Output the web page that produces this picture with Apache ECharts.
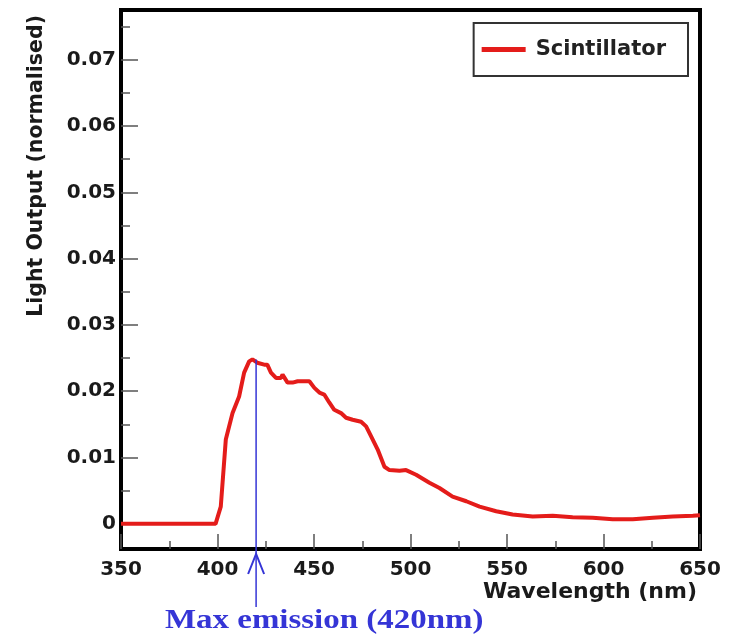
<!DOCTYPE html>
<html>
<head>
<meta charset="utf-8">
<script src="https://cdn.jsdelivr.net/npm/echarts@6/dist/echarts.min.js"></script>
<style>
html, body { margin: 0; padding: 0; background: #fff; }
#chart { width: 740px; height: 638px; }
</style>
</head>
<body>
<div id="chart"></div>
<script>
// emission spectrum
const wavelength = [350, 360, 370, 380, 390, 399, 401.7, 404.3, 407.8, 411.2, 413.8, 416.4, 418.1, 420.6, 424.2,
    425.8, 427.7, 430.3, 432.9, 433.7, 436.3, 438.9, 441.5, 447.6, 450.2, 452.8, 455.3, 457.9, 460.5, 464,
    466.6, 470, 474.4, 477, 479.6, 483, 486.5, 489.1, 494.3, 497.7, 502.9, 509.8, 515, 521.8, 528.9,
    535.8, 544.4, 552.9, 563.3, 573.7, 584, 594.4, 604.8, 615.2, 625.6, 635.9, 646.3, 650]
const lightOutput = [0, 0, 0, 0, 0, 0, 0.0026, 0.0127, 0.0167, 0.0192, 0.0228, 0.0245, 0.0248, 0.0243, 0.0240,
    0.0240, 0.0228, 0.0220, 0.0220, 0.0225, 0.0213, 0.0213, 0.0215, 0.0215, 0.0205, 0.0198, 0.0195, 0.0183, 0.0172, 0.0167,
    0.0160, 0.0157, 0.0154, 0.0147, 0.0132, 0.0112, 0.0086, 0.0081, 0.0080, 0.0081, 0.0074, 0.0062, 0.0054, 0.0041, 0.0034,
    0.0026, 0.0019, 0.0014, 0.0011, 0.0012, 0.0010, 0.0009, 0.0007, 0.0007, 0.0009, 0.0011, 0.0012, 0.0013]

const xRange = [350, 650]
const yRange = [-0.0038, 0.0775]
const yMajorTicks = [0, 0.01, 0.02, 0.03, 0.04, 0.05, 0.06, 0.07]
const yMinorTicks = [0.005, 0.015, 0.025, 0.035, 0.045, 0.055, 0.065, 0.075]
const maxEmission = 420

const labelFont = {
    color: '#1a1a1a',
    fontFamily: '"DejaVu Sans", sans-serif',
    fontWeight: 'bold',
    fontSize: 20,
}
const blue = '#3535d6'
const tickStyle = { color: '#555', width: 1.5 }

const chart = echarts.init(document.getElementById('chart'))
chart.setOption({
    backgroundColor: '#fff',
    animation: false,
    grid: {
        left: 121, right: 40, top: 10, bottom: 89,
        outerBoundsMode: 'none',
        containLabel: false,
        show: true,
        borderColor: '#000',
        borderWidth: 4,
    },
    legend: {
        data: ['Scintillator'],
        right: 52,
        top: 23,
        icon: 'rect',
        itemWidth: 44,
        itemHeight: 5,
        padding: [16, 22, 16, 8],
        borderColor: '#333',
        borderWidth: 2,
        backgroundColor: '#fff',
        textStyle: Object.assign({}, labelFont, { fontSize: 21, color: '#222', padding: [0, 0, 0, 5] }),
    },
    xAxis: {
        type: 'value',
        min: xRange[0],
        max: xRange[1],
        interval: 50,
        name: 'Wavelength (nm)',
        nameLocation: 'end',
        nameGap: -3,
        nameTextStyle: Object.assign({}, labelFont, { fontSize: 22, align: 'right', verticalAlign: 'top', padding: [32, 0, 0, 0] }),
        axisLine: { onZero: false, lineStyle: { color: '#000', width: 4 } },
        axisTick: { inside: true, length: 15, lineStyle: tickStyle },
        minorTick: { show: true, splitNumber: 2, length: 8, lineStyle: tickStyle },
        splitLine: { show: false },
        axisLabel: Object.assign({}, labelFont, { margin: 11 }),
    },
    yAxis: [{
        type: 'value',
        min: yRange[0],
        max: yRange[1],
        position: 'left',
        name: 'Light Output (normalised)',
        nameLocation: 'end',
        nameRotate: 90,
        nameGap: -5,
        nameTextStyle: Object.assign({}, labelFont, { fontSize: 20.5, align: 'right', verticalAlign: 'bottom', padding: [0, 0, 74, 0] }),
        axisLine: { lineStyle: { color: '#000', width: 4 } },
        axisTick: { inside: true, length: 17, customValues: yMajorTicks, lineStyle: tickStyle },
        splitLine: { show: false },
        axisLabel: Object.assign({}, labelFont, {
            margin: 5,
            customValues: yMajorTicks,
            formatter: v => v === 0 ? '0' : v.toFixed(2),
        }),
    }, {
        // second copy of the scale, only for the 0.005 minor ticks
        type: 'value',
        min: yRange[0],
        max: yRange[1],
        position: 'left',
        offset: 0,
        axisLine: { show: false },
        axisTick: { inside: true, length: 9, customValues: yMinorTicks, lineStyle: tickStyle },
        axisLabel: { show: false },
        splitLine: { show: false },
    }],
    series: [{
        name: 'Scintillator',
        type: 'line',
        data: wavelength.map((w, i) => [w, lightOutput[i]]),
        showSymbol: false,
        lineStyle: { color: '#e41c1a', width: 4 },
        itemStyle: { color: '#e41c1a' },
    }],
})

// "Max emission" marker: line up to the peak, arrow below the axis, caption
const px = chart.convertToPixel({ xAxisIndex: 0 }, maxEmission)
const yTop = chart.convertToPixel({ yAxisIndex: 0 }, Math.max(...lightOutput))
const yAxisPx = chart.convertToPixel({ yAxisIndex: 0 }, yRange[0])
chart.setOption({
    graphic: [{
        type: 'line',
        shape: { x1: px, y1: yTop, x2: px, y2: yAxisPx + 58 },
        style: { stroke: blue, lineWidth: 1.5 },
        z: 100,
    }, {
        type: 'polyline',
        shape: { points: [[px - 8, yAxisPx + 25], [px, yAxisPx + 5], [px + 8, yAxisPx + 25]] },
        style: { stroke: blue, lineWidth: 2, fill: null },
        z: 100,
    }, {
        type: 'text',
        x: 165,
        y: 621,
        scaleX: 1.22,
        style: {
            text: 'Max emission (420nm)',
            fill: blue,
            verticalAlign: 'middle',
            font: 'bold 27px "Liberation Serif", "Times New Roman", serif',
        },
        z: 100,
    }],
})
</script>
</body>
</html>
